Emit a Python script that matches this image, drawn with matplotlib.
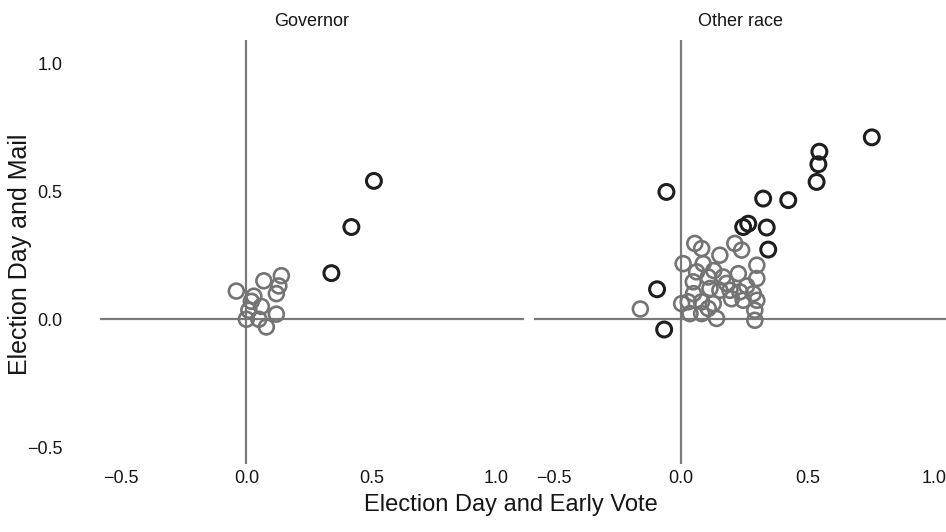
import matplotlib
matplotlib.use("Agg")
import matplotlib.pyplot as plt
from matplotlib import font_manager

# --- data -------------------------------------------------------------
panels = ["Governor", "Other race"]

gov_dark_x = [0.51, 0.42, 0.34]
gov_dark_y = [0.54, 0.36, 0.18]
gov_gray_x = [-0.04, 0.07, 0.14, 0.13, 0.12, 0.03, 0.06, 0.01, 0.00, 0.05, 0.08, 0.12, 0.02]
gov_gray_y = [0.11, 0.15, 0.17, 0.13, 0.10, 0.09, 0.05, 0.035, 0.00, 0.00, -0.03, 0.02, 0.07]

oth_dark_x = [0.754, 0.547, 0.543, 0.536, 0.424, 0.325, 0.339, 0.345, 0.246, 0.266, -0.057, -0.094, -0.066]
oth_dark_y = [0.710, 0.654, 0.605, 0.536, 0.465, 0.471, 0.358, 0.272, 0.360, 0.373, 0.497, 0.117, -0.040]
oth_gray_x = [-0.16, 0.055, 0.082, 0.009, 0.088, 0.154, 0.213, 0.240, 0.300, 0.300,
              0.227, 0.108, 0.049, 0.115, 0.154, 0.194, 0.233, 0.286, 0.246, 0.300,
              0.029, 0.082, 0.128, 0.036, 0.082, 0.108, 0.141, 0.292, 0.292, 0.003,
              0.167, 0.062, 0.180, 0.260, 0.050, 0.200, 0.130]
oth_gray_y = [0.040, 0.296, 0.276, 0.217, 0.217, 0.250, 0.296, 0.270, 0.211, 0.159,
              0.178, 0.165, 0.146, 0.120, 0.113, 0.113, 0.107, 0.100, 0.074, 0.074,
              0.068, 0.068, 0.061, 0.022, 0.022, 0.042, 0.003, 0.035, -0.004, 0.061,
              0.165, 0.185, 0.140, 0.130, 0.100, 0.080, 0.190]

xticks = [-0.5, 0.0, 0.5, 1.0]
yticks = [-0.5, 0.0, 0.5, 1.0]
tick_labels = ["\u22120.5", "0.0", "0.5", "1.0"]

# --- style ------------------------------------------------------------
names = {f.name for f in font_manager.fontManager.ttflist}
family = ["Liberation Sans Narrow", "Liberation Sans", "DejaVu Sans"]
family = [f for f in family if f in names] or ["DejaVu Sans"]
plt.rcParams["font.family"] = family

DARK = "#1e1e1e"
GRAY = "#747474"
LINE = "#7a7a7a"
TEXT = "#151515"

W, H = 946, 532
fig = plt.figure(figsize=(W / 100, H / 100), dpi=100)

def px_axes(x0, x1, y0, y1):
    return fig.add_axes([x0 / W, 1 - y1 / H, (x1 - x0) / W, (y1 - y0) / H])

ax_l = px_axes(100, 524, 40, 464)
ax_r = px_axes(534, 946, 40, 464)

data = [
    (ax_l, gov_gray_x, gov_gray_y, gov_dark_x, gov_dark_y, (-0.585, 1.11)),
    (ax_r, oth_gray_x, oth_gray_y, oth_dark_x, oth_dark_y, (-0.58, 1.047)),
]

for i, (ax, gx, gy, dx, dy, xl) in enumerate(data):
    ax.set_xlim(*xl)
    ax.set_ylim(-0.565, 1.09)
    for s in ax.spines.values():
        s.set_visible(False)
    ax.axhline(0, color=LINE, lw=1.6, zorder=1)
    ax.axvline(0, color=LINE, lw=1.6, zorder=1)
    ax.scatter(gx, gy, s=115, facecolors="none", edgecolors=GRAY, linewidths=1.9, zorder=2)
    ax.scatter(dx, dy, s=115, facecolors="none", edgecolors=DARK, linewidths=2.2, zorder=3)
    ax.set_xticks(xticks)
    ax.set_xticklabels(tick_labels, fontsize=13)
    ax.tick_params(axis="x", length=0, pad=4, colors=TEXT)
    if i == 0:
        ax.set_yticks(yticks)
        ax.set_yticklabels(tick_labels, fontsize=13)
        ax.tick_params(axis="y", length=0, pad=27, colors=TEXT)
    else:
        ax.set_yticks([])
    ax.set_title(panels[i], fontsize=13, color=TEXT, pad=10)

fig.text(511 / W, 1 - 505 / H, "Election Day and Early Vote", ha="center", va="center",
         fontsize=17, color=TEXT)
fig.text(20 / W, 1 - 254 / H, "Election Day and Mail", ha="center", va="center",
         rotation=90, fontsize=18, color=TEXT)

fig.savefig("out.png", dpi=100, facecolor="white")
